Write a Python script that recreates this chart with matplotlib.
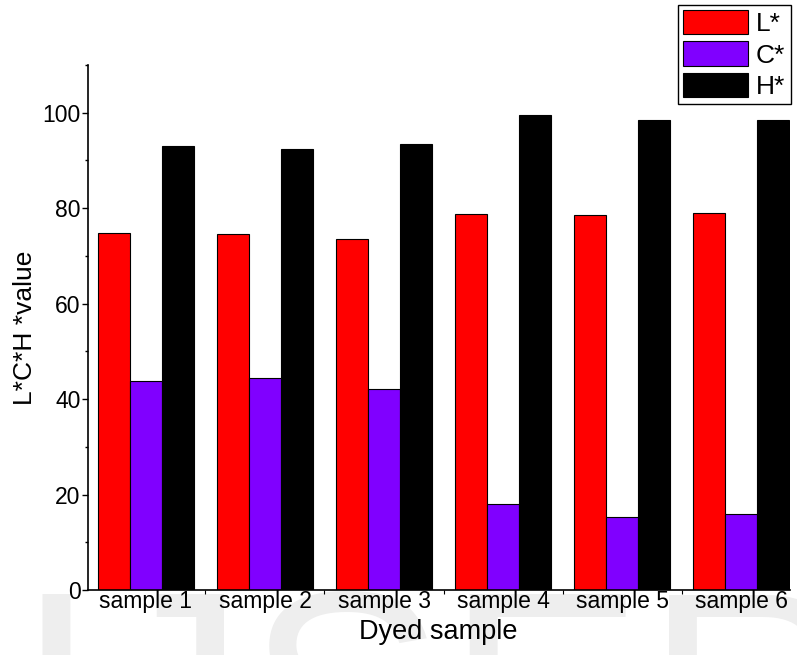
import numpy as np
import matplotlib
matplotlib.use("Agg")
import matplotlib.pyplot as plt
from matplotlib.ticker import MultipleLocator, FixedLocator

plt.rcParams['font.family'] = ['Liberation Sans', 'DejaVu Sans']

# values
samples = ['sample 1', 'sample 2', 'sample 3', 'sample 4', 'sample 5', 'sample 6']
L_vals = [74.7, 74.6, 73.6, 78.8, 78.6, 79.0]
C_vals = [43.8, 44.4, 42.1, 18.1, 15.4, 16.0]
H_vals = [93.0, 92.3, 93.5, 99.4, 98.5, 98.5]

fig = plt.figure(figsize=(7.97, 6.55), dpi=100)
ax = fig.add_axes([0.110, 0.099, 0.881, 0.802])

# faint watermark behind everything, cut by the bottom edge
fig.text(14 / 797, -0.222, 'IJSER', fontsize=215, color='#eeeeee',
         ha='left', va='baseline', zorder=-1)

x = np.arange(len(samples))
w = 0.27
ax.bar(x - w, L_vals, w, color='#ff0000', edgecolor='black', linewidth=0.8, label='L*')
ax.bar(x, C_vals, w, color='#8000ff', edgecolor='black', linewidth=0.8, label='C*')
ax.bar(x + w, H_vals, w, color='#000000', edgecolor='black', linewidth=0.8, label='H*')

ax.set_xlim(-0.49, 5.41)
ax.set_ylim(0, 110)
ax.set_xticks(x)
ax.set_xticklabels(samples, fontsize=16.5)
ax.xaxis.set_minor_locator(FixedLocator(x[:-1] + 0.5))
ax.tick_params(axis='x', which='major', length=0, pad=0)
ax.tick_params(axis='x', which='minor', length=3, width=0.8)
ax.yaxis.set_major_locator(MultipleLocator(20))
ax.yaxis.set_minor_locator(MultipleLocator(10))
ax.tick_params(axis='y', which='major', length=4, width=1, labelsize=16.5, pad=1)
ax.tick_params(axis='y', which='minor', length=2, width=1)
ax.spines['top'].set_visible(False)
ax.spines['right'].set_visible(False)
ax.spines['left'].set_linewidth(1.2)
ax.spines['bottom'].set_linewidth(1.2)
ax.patch.set_alpha(0)

ax.set_xlabel('Dyed sample', fontsize=19.5, labelpad=4)
ax.set_ylabel('L*C*H *value', fontsize=19, labelpad=4)

fig.legend(loc='upper right', bbox_to_anchor=(0.992, 0.993), fontsize=19,
           frameon=True, fancybox=False, edgecolor='black', framealpha=1,
           handlelength=2.45, handleheight=1.05, labelspacing=0.2,
           handletextpad=0.3, borderpad=0.2, borderaxespad=0)

fig.savefig('out.png', dpi=100)
